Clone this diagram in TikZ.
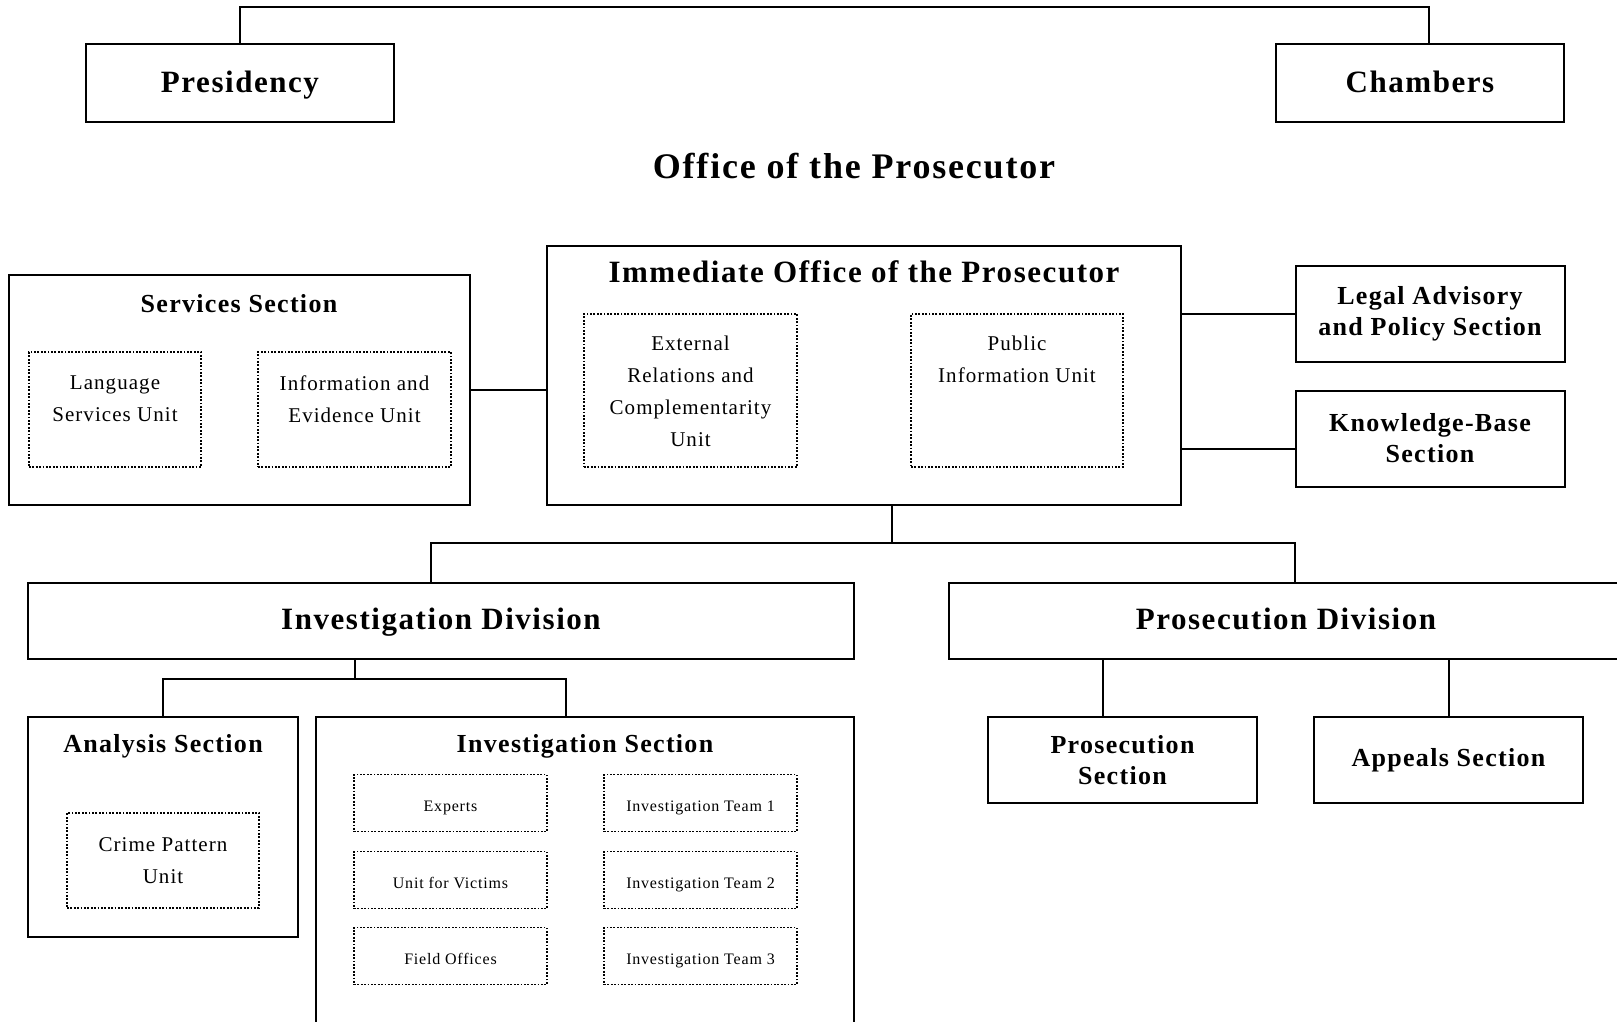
\documentclass[tikz,border=0pt]{standalone}
\usepackage{fontspec}
\setmainfont{Liberation Serif}[LetterSpace=5]
\usetikzlibrary{calc}
\begin{document}
\begin{tikzpicture}[x=1pt,y=-1pt,
    box/.style={draw,line width=2pt,inner sep=0pt},
    unit/.style={draw,line width=1.8pt,dash pattern=on 1.8pt off 1.6pt,inner sep=0pt},
    head/.style={font=\fontsize{31}{37}\selectfont\bfseries,text height=22pt,text depth=6pt},
    sect/.style={font=\fontsize{26}{31}\selectfont\bfseries,align=center},
    txt/.style={font=\fontsize{21}{32}\selectfont,align=center},
    small/.style={font=\fontsize{16}{19}\selectfont,text height=16pt,text depth=0pt},
    link/.style={line width=2pt}]

  \useasboundingbox (0,0) rectangle (1617,1022);
  \clip (0,0) rectangle (1617,1022);

  \node[box,head,text depth=2pt,minimum width=308pt,minimum height=78pt] (pres) at (240,83) {Presidency};
  \node[box,head,text depth=2pt,minimum width=288pt,minimum height=78pt] (cham) at (1420,83) {Chambers};
  \node[font=\fontsize{36}{43}\selectfont\bfseries] (otp) at (854,166) {Office of the Prosecutor};

  \node[box,minimum width=634pt,minimum height=259pt] (iop) at (864,375.5) {};
  \node[head] (ioptitle) at (864,274) {Immediate Office of the Prosecutor};
  \node[unit,minimum width=213pt,minimum height=153pt] (erc) at (690.5,390.5) {};
  \node[txt,anchor=north] (erctext) at (690.5,332) {External\\Relations and\\Complementarity\\Unit};
  \node[unit,minimum width=212pt,minimum height=153pt] (piu) at (1017,390.5) {};
  \node[txt,anchor=north] (piutext) at (1017,332) {Public\\Information Unit};

  \node[box,minimum width=461pt,minimum height=230pt] (serv) at (239.5,390) {};
  \node[sect] (servtitle) at (239,304) {Services Section};
  \node[unit,minimum width=172pt,minimum height=115pt] (lsu) at (115,409.5) {};
  \node[txt,anchor=north] (lsutext) at (115,372) {Language\\Services Unit};
  \node[unit,minimum width=193pt,minimum height=115pt] (ieu) at (354.5,409.5) {};
  \node[txt,anchor=north] (ieutext) at (354.5,372) {Information and\\Evidence Unit};

  \node[box,sect,minimum width=269pt,minimum height=96pt] (lap) at (1430,313.5) {Legal Advisory\\and Policy Section};
  \node[box,sect,minimum width=269pt,minimum height=96pt] (kbs) at (1430,438.5) {Knowledge-Base\\Section};

  \node[box,head,minimum width=826pt,minimum height=76pt] (invdiv) at (441,621) {Investigation Division};
  \node[box,head,minimum width=674pt,minimum height=76pt] (prosdiv) at (1286,621) {Prosecution Division};

  \node[box,minimum width=270pt,minimum height=220pt] (ansec) at (163,827) {};
  \node[sect] (ansectitle) at (163,746) {Analysis Section};
  \node[unit,txt,minimum width=192pt,minimum height=95pt] (cpu) at (163,860.5) {Crime Pattern\\Unit};

  \node[box,minimum width=538pt,minimum height=330pt] (invsec) at (585,882) {};
  \node[sect] (invsectitle) at (585,746) {Investigation Section};
  \foreach \nm/\x/\y/\lab in {exp/450.5/803/Experts, ufv/450.5/880/Unit for Victims,
      fo/450.5/956/Field Offices, it1/700.5/803/Investigation Team 1,
      it2/700.5/880/Investigation Team 2, it3/700.5/956/Investigation Team 3}
    \node[unit,small,minimum width=193pt,minimum height=57pt] (\nm) at (\x,\y) {\lab};

  \node[box,sect,minimum width=269pt,minimum height=86pt] (prossec) at (1122.5,760) {Prosecution\\Section};
  \node[box,sect,minimum width=269pt,minimum height=86pt] (appsec) at (1448.5,760) {Appeals Section};

  \coordinate (topleft) at (240,7);
  \coordinate (topright) at (1429,7);
  \draw[link] (pres.north) -- (topleft) -- (topright) -- (topright |- cham.north);

  \draw[link] (serv.east) -- (serv.east -| iop.west);
  \draw[link] (lap.west) -- (lap.west -| iop.east);
  \coordinate (kbjoin) at (1181,449);
  \draw[link] (iop.east |- kbjoin) -- (kbs.west |- kbjoin);

  \coordinate (trunk) at (892,543);
  \coordinate (invjoin) at (431,543);
  \coordinate (prosjoin) at (1295,543);
  \draw[link] (iop.south -| trunk) -- (trunk);
  \draw[link] (invdiv.north -| invjoin) -- (invjoin) -- (prosjoin) -- (prosdiv.north -| prosjoin);

  \coordinate (idjoin) at (355,679);
  \coordinate (isjoin) at (566,679);
  \draw[link] (invdiv.south -| idjoin) -- (idjoin);
  \draw[link] (ansec.north) |- (isjoin) -- (invsec.north -| isjoin);

  \coordinate (psjoin) at (1103,0);
  \draw[link] (prosdiv.south -| psjoin) -- (prossec.north -| psjoin);
  \draw[link] (prosdiv.south -| appsec.north) -- (appsec.north);
\end{tikzpicture}
\end{document}
